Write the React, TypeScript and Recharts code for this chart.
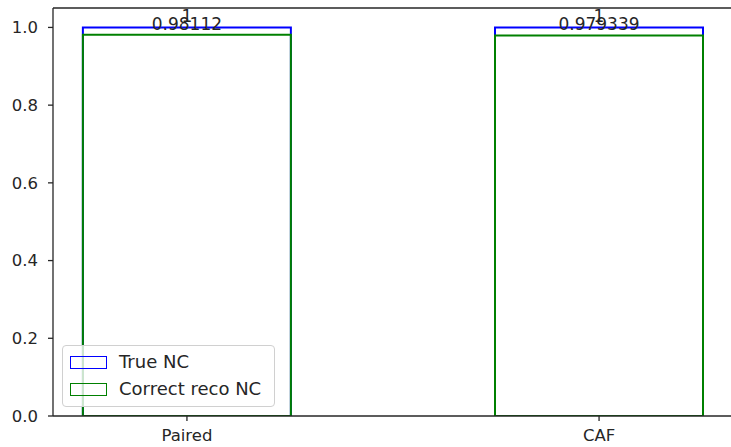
import React from 'react';
import { BarChart, Bar, XAxis, YAxis, LabelList, ReferenceLine } from 'recharts';

const categories = ['Paired', 'CAF'];
const trueNC = [1, 1];
const correctRecoNC = [0.98112, 0.979339];
const yTicks = [0, 0.2, 0.4, 0.6, 0.8, 1.0];

const data = categories.map((name, i) => ({
  x: i,
  name,
  trueNC: trueNC[i],
  correctRecoNC: correctRecoNC[i],
}));

const FONT = 'DejaVu Sans, sans-serif';
const INK = '#262626';

export default function App() {
  const tickStyle = { fontSize: 16.5, fill: INK, fontFamily: FONT };
  const labelStyle = { fontSize: 17, fill: INK, fontFamily: FONT };

  return (
    <div style={{ position: 'absolute', left: 0, top: 0, width: 731, height: 447, overflow: 'hidden', background: '#fff' }}>
      <BarChart
        width={740}
        height={447}
        data={data}
        margin={{ top: 8, right: 7, bottom: 0, left: 0 }}
      >
        <XAxis
          xAxisId="a"
          dataKey="x"
          type="number"
          domain={[-0.325, 1.325]}
          ticks={[0, 1]}
          tickFormatter={(v: number) => categories[v]}
          height={31}
          tickSize={5}
          tickMargin={8}
          stroke={INK}
          strokeWidth={1.3}
          tick={tickStyle}
          allowDataOverflow
        />
        <XAxis xAxisId="b" dataKey="x" type="number" domain={[-0.325, 1.325]} hide allowDataOverflow />
        <YAxis
          domain={[0, 1.05]}
          ticks={yTicks}
          tickFormatter={(v: number) => v.toFixed(1)}
          width={53}
          tickSize={5}
          tickMargin={10}
          stroke={INK}
          strokeWidth={1.3}
          tick={tickStyle}
          allowDataOverflow
        />
        <ReferenceLine xAxisId="a" y={1.05} stroke={INK} strokeWidth={1.3} />
        <Bar
          xAxisId="a"
          dataKey="trueNC"
          barSize={208}
          fill="none"
          stroke="#0000ff"
          strokeWidth={2}
          isAnimationActive={false}
        >
          <LabelList dataKey="trueNC" position="top" offset={5} style={labelStyle} />
        </Bar>
        <Bar
          xAxisId="b"
          dataKey="correctRecoNC"
          barSize={208}
          fill="none"
          stroke="#008000"
          strokeWidth={2}
          isAnimationActive={false}
        >
          <LabelList dataKey="correctRecoNC" position="top" offset={5} style={labelStyle} />
        </Bar>
      </BarChart>
      <div
        style={{
          position: 'absolute',
          left: 62,
          top: 345,
          width: 213,
          height: 62,
          border: '1px solid #d0d0d0',
          borderRadius: 4,
          background: 'rgba(255,255,255,0.8)',
          fontFamily: FONT,
          fontSize: 18,
          color: INK,
          boxSizing: 'border-box',
        }}
      >
        {[
          { label: 'True NC', color: '#0000ff' },
          { label: 'Correct reco NC', color: '#008000' },
        ].map((item, i) => (
          <div
            key={item.label}
            style={{ position: 'absolute', left: 7, top: 6 + i * 27, display: 'flex', alignItems: 'center', whiteSpace: 'nowrap' }}
          >
            <span style={{ display: 'inline-block', width: 37, height: 13, border: `1.5px solid ${item.color}`, boxSizing: 'border-box' }} />
            <span style={{ marginLeft: 12, lineHeight: '20px' }}>{item.label}</span>
          </div>
        ))}
      </div>
    </div>
  );
}
